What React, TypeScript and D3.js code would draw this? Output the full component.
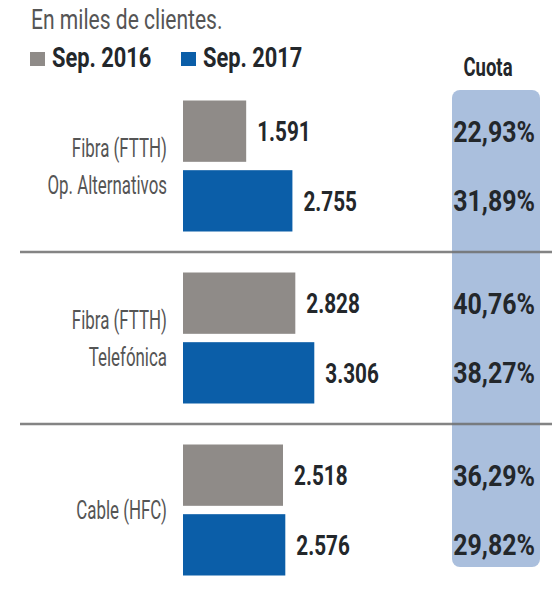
import React, { useEffect, useRef } from "react";
import * as d3 from "d3";

// data (miles de clientes)
const groups = ["ftthAlt", "ftthTef", "hfc"];
const groupLabels = [
  ["Fibra (FTTH)", "Op. Alternativos"],
  ["Fibra (FTTH)", "Telefónica"],
  ["Cable (HFC)"],
];
const seriesKeys = ["Sep. 2016", "Sep. 2017"];
const sep2016 = [1591, 2828, 2518];
const sep2017 = [2755, 3306, 2576];
const cuota2016 = [22.93, 40.76, 36.29];
const cuota2017 = [31.89, 38.27, 29.82];

const W = 552;
const H = 593;
const colors = { "Sep. 2016": "#8f8b88", "Sep. 2017": "#0b5ea8" };
const FONT = "Roboto, 'Noto Sans', sans-serif";
const DARK = "#23272b";

const es = d3.formatLocale({
  decimal: ",",
  thousands: ".",
  grouping: [3],
  currency: ["", " €"],
});
const fmtNum = es.format(",d");
const fmtPct = (v) => es.format(".2f")(v) + "%";

// condensed text: squeeze horizontally around the anchor point
function addText(parent, x, y, txt, o) {
  const g = parent
    .append("g")
    .attr("transform", `translate(${x},${y}) scale(${o.sx},1)`);
  g.append("text")
    .attr("text-anchor", o.anchor || "start")
    .attr("dy", o.dy || null)
    .style("font-family", FONT)
    .style("font-weight", o.bold ? "bold" : "normal")
    .style("font-size", o.size + "px")
    .style("fill", o.fill || DARK)
    .text(txt);
  return g;
}

export default function App() {
  const ref = useRef(null);

  useEffect(() => {
    const svg = d3.select(ref.current);
    svg.selectAll("*").remove();

    const rows = groups.map((g, i) => ({
      key: g,
      labels: groupLabels[i],
      values: [sep2016[i], sep2017[i]],
      cuota: [cuota2016[i], cuota2017[i]],
    }));

    const yGroup = d3.scaleBand().domain(groups).range([80.5, 596.5]);
    const ySeries = d3
      .scaleBand()
      .domain(seriesKeys)
      .range([20, 151])
      .paddingInner(0.12)
      .paddingOuter(0);
    const x = d3.scaleLinear().domain([0, 3500]).range([183, 322]);

    // title
    addText(svg, 31, 29, "En miles de clientes.", { size: 27, sx: 0.78, fill: "#555" });

    // legend
    seriesKeys.forEach((k, i) => {
      const lx = 30 + i * 151;
      svg
        .append("rect")
        .attr("x", lx)
        .attr("y", 52)
        .attr("width", 15)
        .attr("height", 14)
        .attr("fill", colors[k]);
      addText(svg, lx + 22, 67, k, { size: 28, sx: 0.78, bold: true });
    });

    // cuota panel
    svg
      .append("rect")
      .attr("x", 452)
      .attr("y", 90)
      .attr("width", 88)
      .attr("height", 477)
      .attr("rx", 8)
      .attr("fill", "#aabfdd");
    addText(svg, 488, 76, "Cuota", { size: 25, sx: 0.74, bold: true, anchor: "middle" });

    // separators
    svg
      .selectAll(".sep")
      .data(groups.slice(1))
      .join("line")
      .attr("class", "sep")
      .attr("x1", 20)
      .attr("x2", W)
      .attr("y1", (d) => yGroup(d) - 0.5)
      .attr("y2", (d) => yGroup(d) - 0.5)
      .attr("stroke", "#6f6f6f")
      .attr("stroke-opacity", 0.85)
      .attr("stroke-width", 2.5);

    rows.forEach((d) => {
      const g = svg.append("g").attr("transform", `translate(0, ${yGroup(d.key)})`);
      const mid = (ySeries.range()[0] + ySeries.range()[1]) / 2;
      const n = d.labels.length;

      // category labels
      d.labels.forEach((t, j) => {
        addText(g, 167, mid + (j - (n - 1) / 2) * 37, t, {
          size: 26,
          sx: 0.65,
          fill: "#555",
          anchor: "end",
          dy: "0.35em",
        });
      });

      seriesKeys.forEach((k, j) => {
        const v = d.values[j];
        const cy = ySeries(k) + ySeries.bandwidth() / 2;
        g.append("rect")
          .attr("x", x(0))
          .attr("y", ySeries(k))
          .attr("width", x(v) - x(0))
          .attr("height", ySeries.bandwidth())
          .attr("fill", colors[k]);
        addText(g, x(v) + 11, cy, fmtNum(v), { size: 28, sx: 0.74, bold: true, dy: "0.36em" });
        addText(g, 535, cy, fmtPct(d.cuota[j]), {
          size: 29,
          sx: 0.86,
          bold: true,
          anchor: "end",
          dy: "0.36em",
        });
      });
    });
  }, []);

  return (
    <svg
      ref={ref}
      width={W}
      height={H}
      style={{ position: "absolute", left: 0, top: 0, background: "#fff" }}
    />
  );
}
